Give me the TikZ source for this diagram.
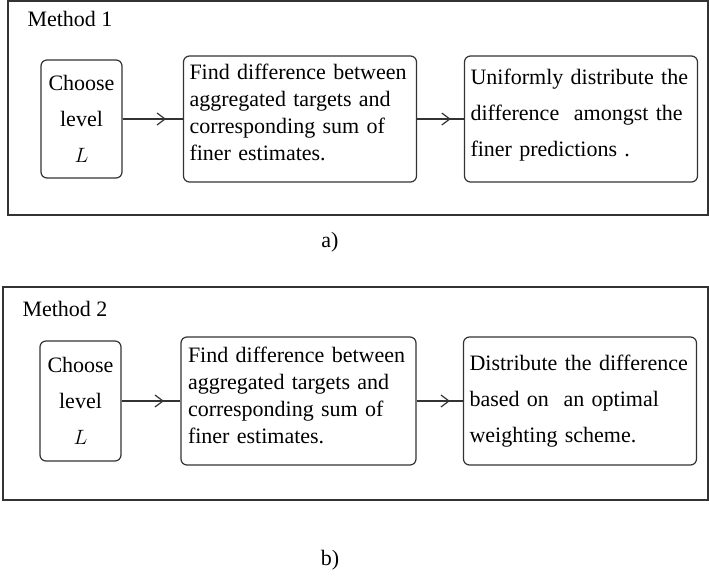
\documentclass[tikz,border=0pt]{standalone}
\usepackage{fontspec}
\setmainfont{Liberation Serif}
\usetikzlibrary{calc,arrows.meta}

\begin{document}
\begin{tikzpicture}[x=1pt,y=-1pt,
	every node/.style={font=\fontsize{22}{27}\selectfont},
	box/.style={draw=black!80, line width=1.2pt, rounded corners=6pt, inner sep=0pt},
	levelbox/.style={box, minimum width=81pt, minimum height=118pt, align=center,
		font=\fontsize{22}{36}\selectfont},
	stepbox/.style={box, minimum width=233pt, minimum height=126pt, inner xsep=6pt,
		text width=221pt, align=left},
	widebox/.style={stepbox, font=\fontsize{22}{36}\selectfont},
	lift/.style={execute at end node={\rule[-#1]{0pt}{#1}}},
	frame/.style={draw=black!80, line width=1.2pt},
	link/.style={draw=black!80, line width=1.2pt},
	tip/.style={link, -{Straight Barb[length=8pt,width=12pt]}}
]

	% parameters
	\def\rowa{119}
	\def\rowb{401}

	\useasboundingbox (0,0) rectangle (709,581);

	% frames
	\draw[frame] (8,1) rectangle (708,215);
	\draw[frame] (3,287) rectangle (708,500);

	% method 1

	\node[anchor=west] (m1) at (24,19) {Method 1};
	\node[levelbox] (c1) at (81.5,\rowa) {Choose\\level\\$L$};
	\node[stepbox, lift=14pt] (f1) at (300,\rowa) {Find difference between\\aggregated targets and\\corresponding sum of\\finer estimates.};
	\node[widebox, lift=13pt] (u1) at (581,\rowa) {Uniformly distribute the\\difference~ amongst the\\finer predictions .};
	\node (a) at (330,242) {a)};

	% method 2

	\node[anchor=west] (m2) at (19,309) {Method 2};
	\node[levelbox, minimum height=120pt] (c2) at (80.5,\rowb) {Choose\\level\\$L$};
	\node[stepbox, lift=12pt, minimum width=235pt, minimum height=128pt] (f2) at (298.5,\rowb) {Find difference between\\aggregated targets and\\corresponding sum of\\finer estimates.};
	\node[widebox, minimum height=128pt] (d2) at (580,\rowb) {Distribute the difference\\based on~ an optimal\\weighting scheme.};
	\node (b) at (330,560) {b)};

	% arrows

	\foreach \from/\to [count=\i] in {c1/f1,f1/u1,c2/f2,f2/d2} {
		\draw[link] (\from) -- (\to);
		\path (\from.east) -- (\to.west) coordinate[pos=0.72] (t\i);
		\draw[tip] (\from.east) -- (t\i);
	}

\end{tikzpicture}
\end{document}
